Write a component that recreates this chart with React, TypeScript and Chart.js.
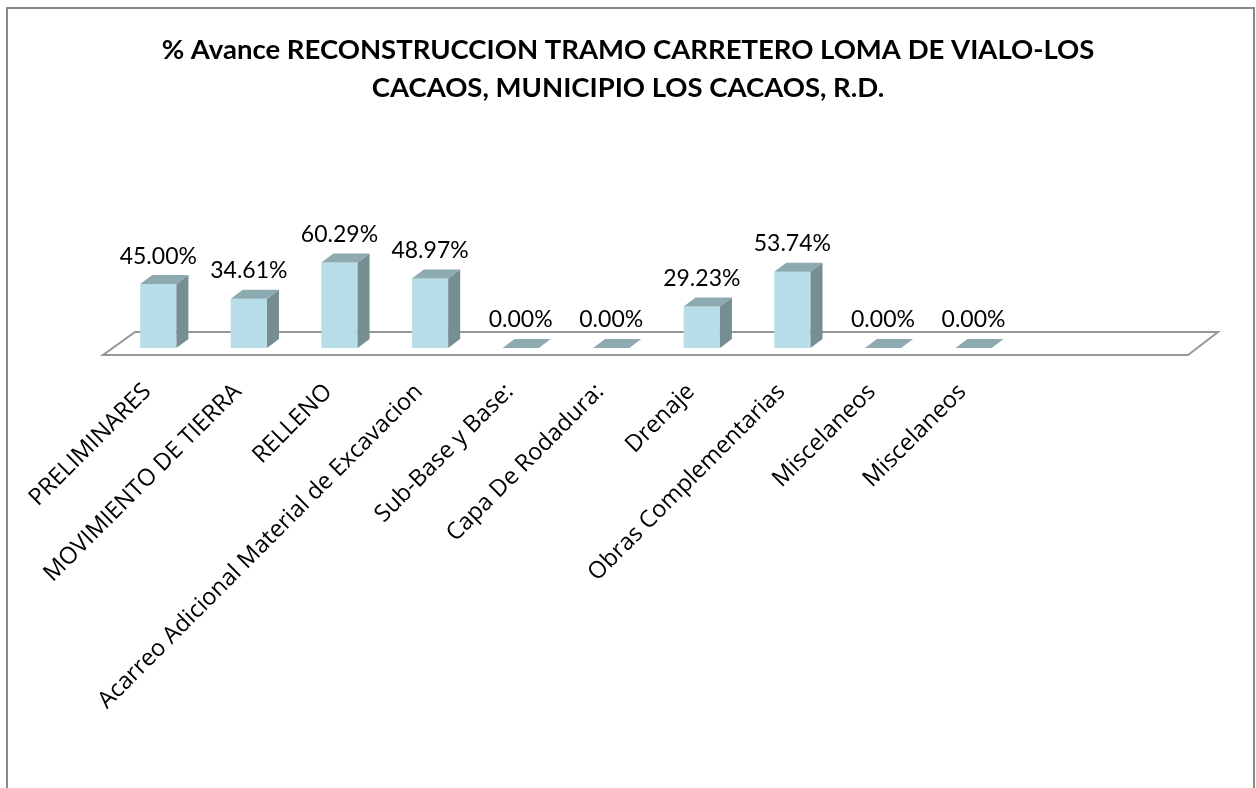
import React, { useEffect, useRef } from 'react';
import { Chart, registerables } from 'chart.js';

Chart.register(...registerables);

const titleLines: string[] = [
  '% Avance RECONSTRUCCION TRAMO CARRETERO LOMA DE VIALO-LOS',
  'CACAOS, MUNICIPIO LOS CACAOS, R.D.',
];

const categories: string[] = [
  'PRELIMINARES',
  'MOVIMIENTO DE TIERRA',
  'RELLENO',
  'Acarreo Adicional Material de Excavacion',
  'Sub-Base y Base:',
  'Capa De Rodadura:',
  'Drenaje',
  'Obras Complementarias',
  'Miscelaneos',
  'Miscelaneos',
  '',
  '',
];

const percentValues: (number | null)[] = [45.0, 34.61, 60.29, 48.97, 0, 0, 29.23, 53.74, 0, 0, null, null];

const FRONT = '#b7dee8';
const SIDE = '#768d92';
const TOP = '#8eaab1';
const FLOOR = '#979797';
const FONT = 'Lato, "Open Sans", sans-serif';
const TICK_FONT = '"Open Sans", Lato, sans-serif';

const bar3d = {
  id: 'bar3d',
  beforeDatasetsDraw(chart: any) {
    const ctx = chart.ctx;
    const { left, right } = chart.chartArea;
    const base = chart.scales.y.getPixelForValue(0);
    const fy = base + 7;
    const by = base - 16;
    ctx.save();
    ctx.strokeStyle = FLOOR;
    ctx.lineWidth = 2;
    ctx.beginPath();
    ctx.moveTo(left - 10, fy);
    ctx.lineTo(right - 12, fy);
    ctx.lineTo(right + 18, by);
    ctx.lineTo(left + 22, by);
    ctx.closePath();
    ctx.stroke();
    ctx.restore();
  },
  afterDatasetsDraw(chart: any) {
    const ctx = chart.ctx;
    const meta = chart.getDatasetMeta(0);
    const dx = 12;
    const dy = -9;
    ctx.save();
    meta.data.forEach((el: any, i: number) => {
      const v = percentValues[i];
      if (v === null || v === undefined) return;
      const { x, y, base, width } = el.getProps(['x', 'y', 'base', 'width'], true);
      const l = x - width / 2;
      const r = x + width / 2;
      if (base - y > 0.5) {
        ctx.fillStyle = SIDE;
        ctx.beginPath();
        ctx.moveTo(r, y);
        ctx.lineTo(r + dx, y + dy);
        ctx.lineTo(r + dx, base + dy);
        ctx.lineTo(r, base);
        ctx.closePath();
        ctx.fill();
      }
      ctx.fillStyle = TOP;
      ctx.beginPath();
      ctx.moveTo(l, y);
      ctx.lineTo(r, y);
      ctx.lineTo(r + dx, y + dy);
      ctx.lineTo(l + dx, y + dy);
      ctx.closePath();
      ctx.fill();

      ctx.fillStyle = '#000';
      ctx.font = `23px ${FONT}`;
      ctx.textAlign = 'center';
      ctx.textBaseline = 'middle';
      ctx.fillText(v.toFixed(2) + '%', x, y + dy - 19);
    });
    ctx.restore();
  },
  afterDraw(chart: any) {
    const ctx = chart.ctx;
    const xs = chart.scales.x;
    const base = chart.scales.y.getPixelForValue(0);
    ctx.save();
    ctx.fillStyle = '#000';
    ctx.font = `23.5px ${TICK_FONT}`;
    ctx.textAlign = 'right';
    ctx.textBaseline = 'middle';
    categories.forEach((label, i) => {
      if (!label) return;
      const px = xs.getPixelForTick(i);
      ctx.save();
      ctx.translate(px - 11, base + 40);
      ctx.rotate(-Math.PI / 4);
      ctx.fillText(label, 0, 0);
      ctx.restore();
    });
    ctx.restore();
  },
};

export default function App() {
  const ref = useRef<HTMLCanvasElement | null>(null);

  useEffect(() => {
    if (!ref.current) return;
    const chart = new Chart(ref.current, {
      type: 'bar',
      data: {
        labels: categories,
        datasets: [
          {
            data: percentValues as any,
            backgroundColor: FRONT,
            borderWidth: 0,
            categoryPercentage: 0.8,
            barPercentage: 0.5,
          },
        ],
      },
      options: {
        animation: false,
        responsive: true,
        maintainAspectRatio: false,
        events: [],
        layout: { padding: { left: 56, right: 56, top: 0, bottom: 0 } },
        plugins: {
          legend: { display: false },
          tooltip: { enabled: false },
          title: {
            display: true,
            text: titleLines,
            color: '#000',
            font: { family: FONT, size: 27.5, weight: 'bold', lineHeight: '38px' as any },
            padding: { top: 31, bottom: 99 },
          },
        },
        scales: {
          x: {
            grid: { display: false },
            border: { display: false },
            afterFit: (scale: any) => {
              scale.height = 440;
            },
            ticks: { display: false, autoSkip: false },
          },
          y: {
            display: true,
            min: 0,
            max: 100,
            grid: { display: false },
            border: { display: false },
            ticks: { display: false },
            afterFit: (scale: any) => {
              scale.width = 57;
            },
          },
        },
      },
      plugins: [bar3d],
    });
    return () => chart.destroy();
  }, []);

  return (
    <div style={{ position: 'absolute', left: 0, top: 0, width: 1256, height: 788, overflow: 'hidden', background: '#fff' }}>
      <canvas ref={ref} style={{ position: 'absolute', left: 0, top: 0 }} />
      <div
        style={{
          position: 'absolute',
          left: 6,
          top: 7,
          width: 1249,
          height: 820,
          border: '2px solid #8a8a8a',
          boxSizing: 'border-box',
          pointerEvents: 'none',
        }}
      />
    </div>
  );
}
